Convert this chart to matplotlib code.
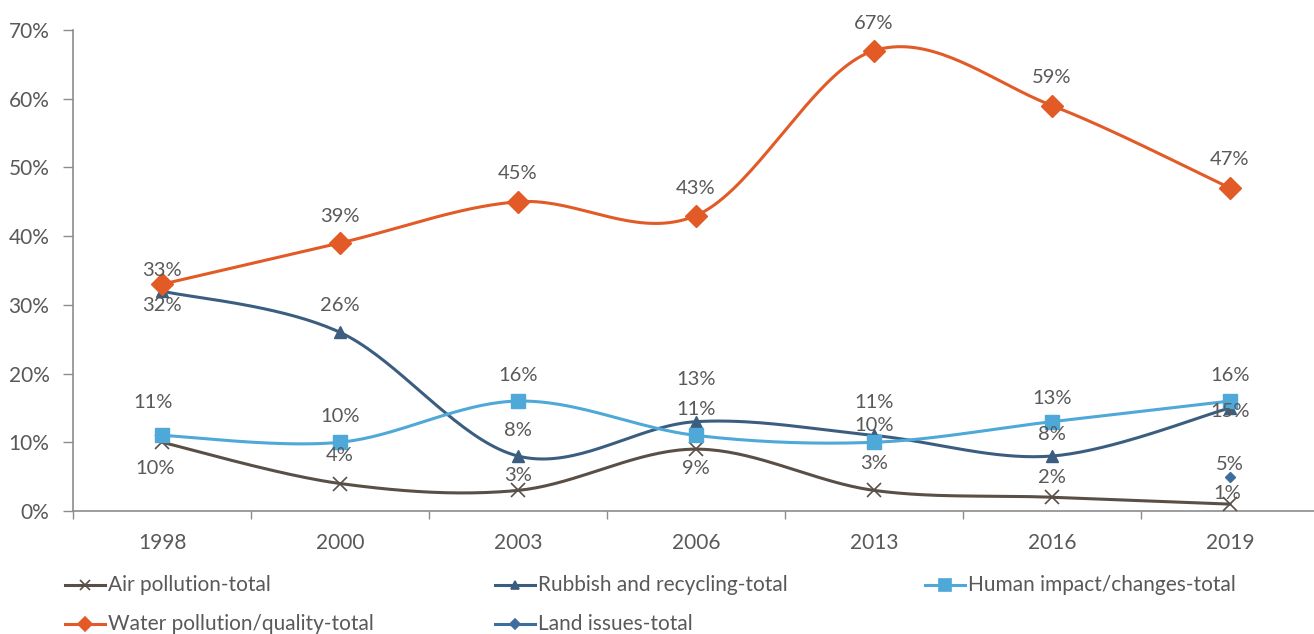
import numpy as np
import matplotlib.pyplot as plt
from matplotlib.lines import Line2D

plt.rcParams['font.family'] = ['Lato', 'DejaVu Sans']

years = ['1998', '2000', '2003', '2006', '2013', '2016', '2019']
air = [10, 4, 3, 9, 3, 2, 1]
rubbish = [32, 26, 8, 13, 11, 8, 15]
human = [11, 10, 16, 11, 10, 13, 16]
water = [33, 39, 45, 43, 67, 59, 47]
land = [np.nan, np.nan, np.nan, np.nan, np.nan, np.nan, 5]

names = ['Air pollution-total', 'Rubbish and recycling-total', 'Human impact/changes-total',
         'Water pollution/quality-total', 'Land issues-total']

TXT = '#595959'


def smooth(x, y, n=40):
    # excel-like smoothed line (catmull-rom as bezier)
    pts = np.column_stack([x, y]).astype(float)
    P = np.vstack([pts[0], pts, pts[-1]])
    out = []
    t = np.linspace(0, 1, n)[:, None]
    for i in range(len(pts) - 1):
        p0, p1, p2, p3 = P[i], P[i + 1], P[i + 2], P[i + 3]
        c1 = p1 + (p2 - p0) / 6
        c2 = p2 - (p3 - p1) / 6
        seg = (1 - t)**3 * p1 + 3 * (1 - t)**2 * t * c1 + 3 * (1 - t) * t**2 * c2 + t**3 * p2
        out.append(seg if i == 0 else seg[1:])
    return np.vstack(out)


fig = plt.figure(figsize=(13.14, 6.34), dpi=100)
ax = fig.add_axes([73 / 1314, 123 / 634, 1246 / 1314, 481 / 634])
x = np.arange(len(years))

#---------------------------------------------------#
#   series: values, colour, marker, size, label offsets (px)
#---------------------------------------------------#
series = [
    (air, '#594f47', 'x', 10, [-26, 28, 15, -19, 27, 20, 11], [-7, 0, 0, 0, 0, 0, -3]),
    (rubbish, '#3b5e80', '^', 8, [-14, 27, 26, 42, 33, 22, -4], [0, 0, 0, 0, 0, 0, 0]),
    (human, '#4ea8d8', 's', 10, [33, 26, 26, 26, 17, 23, 26], [-9, 0, 0, 0, 0, 0, 0]),
    (water, '#e25a26', 'D', 11, [14, 27, 28, 27, 27, 28, 29], [0, 0, 0, 0, 0, 0, 0]),
]

for vals, col, mk, ms, dys, dxs in series:
    v = np.array(vals) / 100
    c = smooth(x, v)
    ax.plot(c[:, 0], c[:, 1], color=col, lw=2.2, solid_capstyle='round', zorder=2)
    if mk == 'x':
        ax.plot(x, v, ls='none', marker=mk, ms=ms, mew=1.2, color=col, zorder=3)
    else:
        ax.plot(x, v, ls='none', marker=mk, ms=ms, color=col, mec=col, zorder=3)
    for xi, vi, dy, dx in zip(x, v, dys, dxs):
        ax.annotate('%d%%' % round(vi * 100), (xi, vi), xytext=(dx, dy), textcoords='offset pixels',
                    ha='center', va='center', fontsize=14.5, color=TXT, zorder=4)

lv = np.array(land) / 100
ax.plot(x, lv, ls='none', marker='D', ms=5.5, color='#3e6e9e', zorder=3)
ax.annotate('5%', (x[-1], lv[-1]), xytext=(0, 12), textcoords='offset pixels',
            ha='center', va='center', fontsize=14.5, color=TXT)

ax.set_xlim(-0.5, 6.5)
ax.set_ylim(0, 0.7)
ax.set_yticks(np.arange(0, 0.71, 0.1))
ax.set_yticklabels(['%d%%' % (t * 100) for t in np.arange(0, 0.71, 0.1)])
ax.set_xticks(np.arange(-0.5, 6.6, 1))
ax.set_xticklabels([])
ax.set_xticks(x, minor=True)
ax.set_xticklabels(years, minor=True)
ax.tick_params(axis='x', which='major', length=6, color='#8c8c8c', width=1)
ax.tick_params(axis='x', which='minor', length=0, pad=16, labelsize=15, labelcolor=TXT)
ax.tick_params(axis='y', length=7, color='#8c8c8c', width=1, pad=10, labelsize=15, labelcolor=TXT)
for s in ['top', 'right']:
    ax.spines[s].set_visible(False)
for s in ['left', 'bottom']:
    ax.spines[s].set_color('#8c8c8c')
    ax.spines[s].set_linewidth(1.2)

#---------------------------------------------------#
#   legend drawn by hand (excel layout)
#---------------------------------------------------#
leg = [
    (65, 585, '#594f47', 'x', 7),
    (495, 585, '#3b5e80', '^', 6),
    (925, 585, '#4ea8d8', 's', 8),
    (65, 624, '#e25a26', 'D', 7),
    (495, 624, '#3e6e9e', 'D', 5),
]
W, H = 1314, 634
for (lx, ly, col, mk, ms), name in zip(leg, names):
    fy = 1 - ly / H
    fig.add_artist(Line2D([lx / W, (lx + 40) / W], [fy, fy], color=col, lw=2.2, transform=fig.transFigure))
    fig.add_artist(Line2D([(lx + 20) / W], [fy], marker=mk, ms=ms, color=col, mec=col, mew=1.2,
                          transform=fig.transFigure))
    fig.text((lx + 43) / W, fy, name, ha='left', va='center', fontsize=15, color=TXT)

fig.savefig('out.png', dpi=100)
